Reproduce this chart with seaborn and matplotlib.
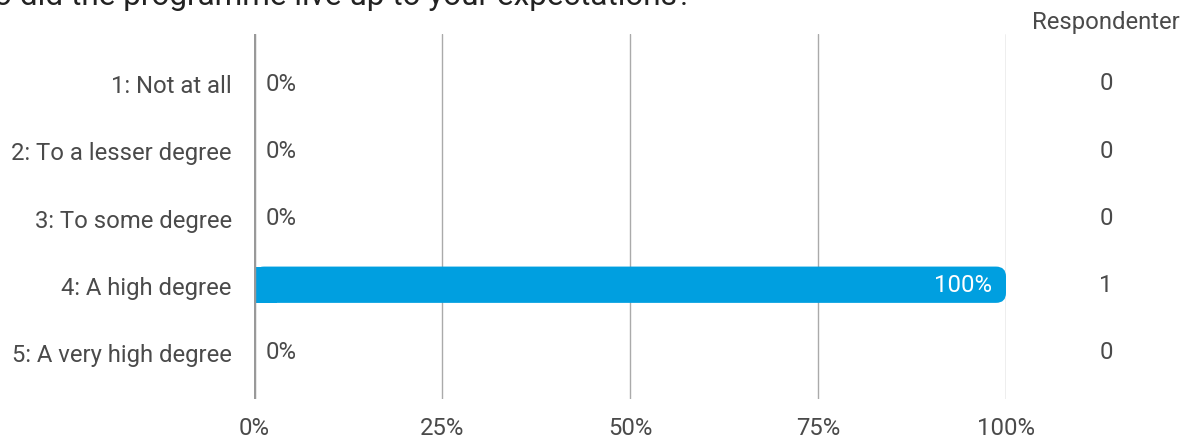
import pandas as pd
import matplotlib.pyplot as plt
import seaborn as sns
from matplotlib.patches import FancyBboxPatch, Rectangle

# data
categories = ['1: Not at all', '2: To a lesser degree', '3: To some degree',
              '4: A high degree', '5: A very high degree']
percent = [0, 0, 0, 100, 0]
respondents = [0, 0, 0, 1, 0]
x_ticks = [0, 25, 50, 75, 100]
x_tick_labels = ['0%', '25%', '50%', '75%', '100%']
title = 'o did the programme live up to your expectations?'
count_header = 'Respondenter'

df = pd.DataFrame({'cat': categories, 'pct': percent, 'n': respondents})

sns.set_style('white')
plt.rcParams['font.family'] = ['Roboto', 'DejaVu Sans']

W, H = 1199, 439
fig = plt.figure(figsize=(W / 100, H / 100), dpi=100)
ax = fig.add_axes([254 / W, 1 - 400 / H, (1006 - 254) / W, (400 - 35) / H])

blue = '#009FE0'
text_col = '#4a4a4a'
fs = 17.2

sns.barplot(data=df, x='pct', y='cat', color=blue, width=0.54, ax=ax,
            saturation=1, orient='h')

# rounded right end for non-zero bars
px_x = (1006 - 254) / 100
px_y = (400 - 35) / 5.43
for p in list(ax.patches):
    w = p.get_width()
    if w <= 0:
        p.remove()
        continue
    y0, h = p.get_y(), p.get_height()
    p.remove()
    r = 10 / px_x
    ax.add_patch(FancyBboxPatch((0, y0), w, h, boxstyle=f'round,pad=0,rounding_size={r}',
                                mutation_aspect=px_x / px_y, fc=blue, ec='none', zorder=2))
    ax.add_patch(Rectangle((0, y0), 3, h, fc=blue, ec='none', zorder=2))

ax.set_xlim(0, 100)
ax.set_ylim(4.7, -0.73)
ax.set_xticks(x_ticks)
ax.set_xticklabels(x_tick_labels)
ax.tick_params(axis='x', length=0, pad=12, labelsize=fs, labelcolor=text_col)
ax.tick_params(axis='y', length=0, pad=16, labelsize=fs, labelcolor=text_col)
ax.set_xlabel('')
ax.set_ylabel('')
for s in ax.spines.values():
    s.set_visible(False)
for xt in x_ticks[1:]:
    ax.axvline(xt, color='#aaaaaa', lw=1, zorder=1)
ax.axvline(0, color='#999999', lw=2.5, zorder=3)

for i, (pc, n) in enumerate(zip(percent, respondents)):
    if pc >= 100:
        ax.text(pc - 1.8, i, f'{pc}%', color='white', ha='right', va='center',
                fontsize=fs, zorder=4)
    else:
        ax.text(1.6, i, f'{pc}%', color=text_col, ha='left', va='center', fontsize=fs)
    fig.text(1106 / W, 1 - (84 + i * 67.25) / H, str(n), color=text_col,
             ha='center', va='center', fontsize=fs)

fig.text(1106 / W, 1 - 23 / H, count_header, color=text_col, ha='center',
         va='center', fontsize=fs)
fig.text(-6 / W, 1 - 5 / H, title, color='#222222', ha='left', va='baseline',
         fontsize=22.7)

fig.savefig('out.png', dpi=100)
